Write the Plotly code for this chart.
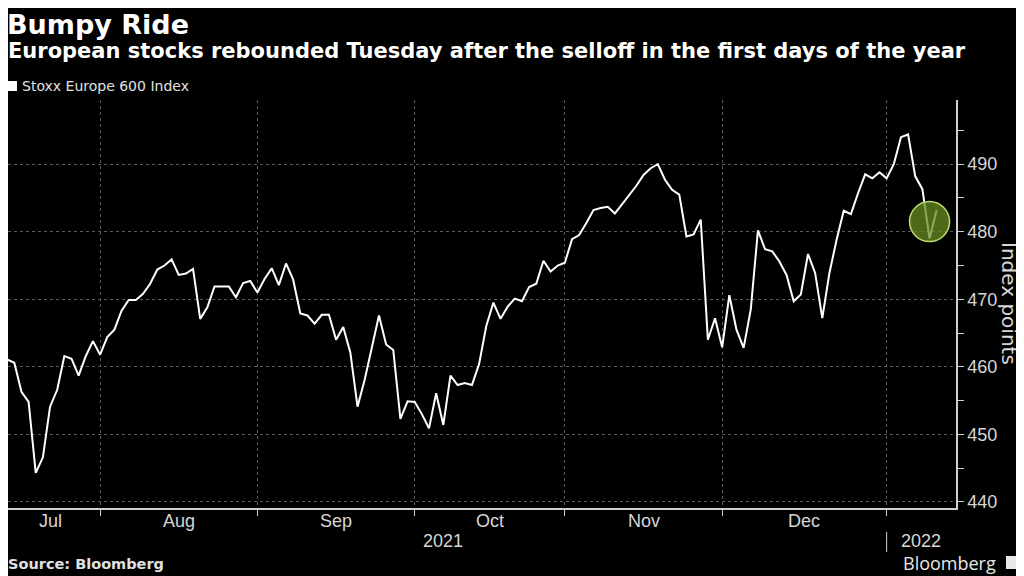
import pandas as pd
import plotly.graph_objects as go

# Stoxx Europe 600, denní zavírací hodnoty
trading_days = pd.bdate_range("2021-07-12", "2022-01-11")

stoxx_values = [
    461.0, 461.1, 460.6, 456.3, 454.8, 444.3, 446.6, 454.1, 456.6, 461.6,
    461.2, 458.7, 461.6, 463.8, 461.8, 464.4, 465.5, 468.3, 469.9, 469.9,
    470.8, 472.3, 474.4, 475.0, 475.9, 473.6, 473.8, 474.5, 467.1, 468.8,
    471.9, 471.9, 471.9, 470.3, 472.4, 472.7, 471.0,
    473.0, 474.6, 472.1, 475.3, 472.9, 467.9, 467.6, 466.4, 467.7, 467.7,
    464.0, 465.9, 462.1, 454.1, 458.1, 462.8, 467.6, 463.3, 462.5, 452.3,
    454.9, 454.8, 453.0, 450.9, 456.1, 451.4, 458.7, 457.3, 457.6, 457.3,
    460.4, 466.0, 469.5, 467.1, 468.9,
    470.1, 469.7, 471.8, 472.3, 475.7, 474.1, 475.0, 475.4, 478.9, 479.5,
    481.3, 483.2, 483.5, 483.7, 482.7, 484.1, 485.4, 486.8, 488.4, 489.4,
    490.0, 487.7, 486.2, 485.5, 479.3, 479.6, 481.8, 464.0, 467.2, 462.9,
    470.6, 465.5, 462.8, 468.5, 480.2, 477.4, 477.1, 475.6, 473.6, 469.7,
    470.7, 476.7, 473.9, 467.2, 473.9, 478.8, 483.1, 482.6, 485.7, 488.5,
    487.9, 488.8, 487.9, 490.0, 494.0, 494.4, 488.2, 486.3, 479.0, 483.2,
]

month_labels = ["Jul", "Aug", "Sep", "Oct", "Nov", "Dec"]
year_labels = ["2021", "2022"]
y_ticks = [440, 450, 460, 470, 480, 490]

df = pd.DataFrame({"date": trading_days, "value": stoxx_values})

# hranice měsíců = poslední obchodní den v měsíci
month_ends = df.groupby(df["date"].dt.to_period("M"))["date"].max().tolist()[:-1]
idx_ends = [int(df.index[df["date"] == d][0]) for d in month_ends]


def pos_at(i):
    # pozice mezi obchodními dny (zlomek dne)
    base = df["date"].iloc[int(i)]
    return base + pd.Timedelta(days=i - int(i))


bounds = [0] + idx_ends
month_pos = [pos_at((bounds[k] + bounds[k + 1]) / 2) for k in range(len(month_labels))]
year_pos = [pos_at(idx_ends[-1] / 2), pos_at((idx_ends[-1] + 133.7) / 2)]

# stránka má 8px okraj, graf je proto o 8px menší
W, H = 1016, 568
PW, PH = 948, 408


def px(x):
    return (x - 8) / PW


def py(y):
    return (508 - y) / PH


bg = "#000000"
grid = "#5a5a5a"
axis_col = "#cfcfcf"
tick_font = dict(family="Liberation Sans, Roboto", size=18, color="#d6d6d6")

fig = go.Figure()
fig.add_trace(go.Scatter(
    x=df["date"], y=df["value"], mode="lines",
    line=dict(color="#ffffff", width=2), showlegend=False,
    hoverinfo="x+y",
))

fig.update_layout(
    width=W, height=H,
    paper_bgcolor=bg, plot_bgcolor=bg,
    margin=dict(l=0, r=W - PW, t=92, b=H - 92 - PH),
    font=dict(family="DejaVu Sans", color="#ffffff"),
)

fig.update_xaxes(
    range=["2021-07-13 02:51", "2022-01-13 16:48"],
    rangebreaks=[dict(bounds=["sat", "mon"])],
    tickvals=month_ends, showticklabels=False,
    ticks="outside", ticklen=6, tickcolor=axis_col,
    showgrid=True, gridcolor=grid, griddash="dot", gridwidth=1,
    showline=True, linecolor=axis_col, linewidth=1.5,
    zeroline=False,
)

fig.update_yaxes(
    range=[439.1, 499.5], side="right",
    tickvals=y_ticks, tickfont=tick_font,
    ticks="outside", ticklen=6, tickcolor=axis_col,
    minor=dict(dtick=5, ticks="outside", ticklen=6, tickcolor=axis_col, showgrid=False),
    showgrid=True, gridcolor=grid, griddash="dot", gridwidth=1,
    showline=True, linecolor=axis_col, linewidth=1.5,
    zeroline=False,
)

# zvýraznění úterního odrazu
fig.add_shape(
    type="circle", xref="x", yref="y",
    xsizemode="pixel", ysizemode="pixel",
    xanchor=trading_days[-2], yanchor=481.5,
    x0=-20, x1=20, y0=-20, y1=20,
    fillcolor="rgba(105,140,35,0.75)", line=dict(color="#b9dc70", width=1.5),
    layer="above",
)

# oddělovač roku pod osou
fig.add_shape(
    type="line", xref="x", yref="paper",
    x0=month_ends[-1], x1=month_ends[-1], y0=py(532), y1=py(552),
    line=dict(color=axis_col, width=1),
)

# čtvereček legendy a ikonka loga
fig.add_shape(type="rect", xref="paper", yref="paper",
              x0=px(8), x1=px(17), y0=py(91), y1=py(81),
              fillcolor="#ffffff", line=dict(width=0))
fig.add_shape(type="rect", xref="paper", yref="paper",
              x0=px(1006), x1=px(1017), y0=py(569), y1=py(556),
              fillcolor="#e8e8e8", line=dict(width=0))

for lab, xp in zip(month_labels, month_pos):
    fig.add_annotation(x=xp, y=py(521), xref="x", yref="paper", text=lab,
                       showarrow=False, font=tick_font, xanchor="center", yanchor="middle")
for lab, xp in zip(year_labels, year_pos):
    fig.add_annotation(x=xp, y=py(541), xref="x", yref="paper", text=lab,
                       showarrow=False, font=tick_font, xanchor="center", yanchor="middle")

fig.add_annotation(x=px(1009), y=py(304), xref="paper", yref="paper",
                   text="Index points", showarrow=False, textangle=90,
                   xanchor="center", yanchor="middle",
                   font=dict(family="DejaVu Sans", size=20, color="#d6d6d6"))

# nadpisy
fig.add_annotation(x=-2 / PW, y=py(8), xref="paper", yref="paper", xanchor="left", yanchor="top",
                   text="<b>Bumpy Ride</b>", showarrow=False, borderpad=0,
                   font=dict(family="DejaVu Sans", size=27, color="#ffffff"))
fig.add_annotation(x=-2 / PW, y=py(51), xref="paper", yref="paper", xanchor="left", yanchor="middle",
                   text="<b>European stocks rebounded Tuesday after the selloff in the first days of the year</b>",
                   showarrow=False, font=dict(family="DejaVu Sans", size=21, color="#ffffff"))
fig.add_annotation(x=px(20), y=py(86), xref="paper", yref="paper", xanchor="left", yanchor="middle",
                   text="Stoxx Europe 600 Index", showarrow=False,
                   font=dict(family="DejaVu Sans", size=14, color="#e0e0e0"))

fig.add_annotation(x=-2 / PW, y=py(564), xref="paper", yref="paper", xanchor="left", yanchor="middle",
                   text="<b>Source: Bloomberg</b>", showarrow=False,
                   font=dict(family="DejaVu Sans", size=14.5, color="#e0e0e0"))
fig.add_annotation(x=px(998), y=py(563), xref="paper", yref="paper", xanchor="right", yanchor="middle",
                   text="Bloomberg", showarrow=False,
                   font=dict(family="Open Sans", size=18, color="#e8e8e8"))

fig.write_html("out.html")
